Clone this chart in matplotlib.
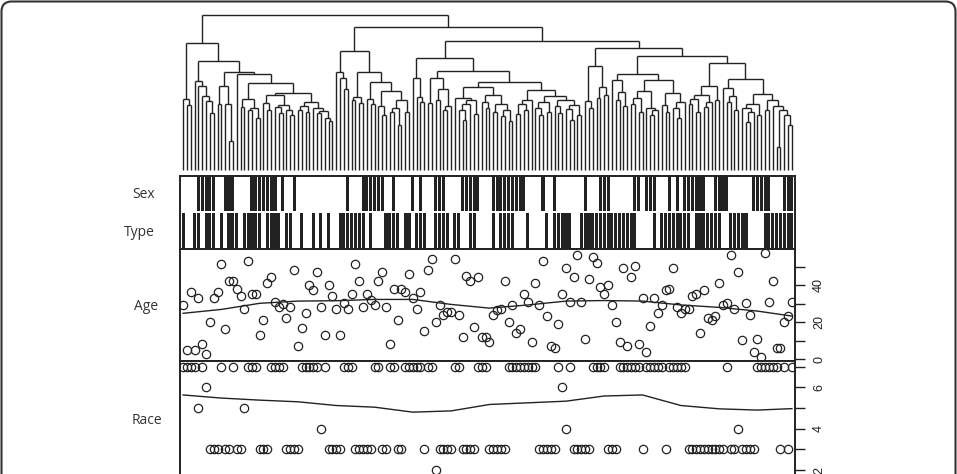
import numpy as np
import matplotlib.pyplot as plt
from matplotlib.collections import LineCollection
from matplotlib.patches import FancyBboxPatch

n_leaves = 160

gap_heights = [
    71, 65, 127, 89, 84, 74, 69, 57, 109, 66, 84, 66, 29, 98, 96, 63, 71, 60, 62, 52,
    87, 67, 60, 75, 63, 57, 65, 60, 55, 77, 60, 64, 58, 68, 62, 57, 59, 52, 49, 155,
    98, 92, 81, 119, 70, 73, 67, 98, 71, 66, 88, 64, 55, 79, 58, 62, 45, 70, 58, 143,
    92, 73, 68, 112, 67, 92, 70, 81, 60, 64, 99, 72, 60, 50, 66, 70, 56, 83, 68, 62,
    75, 58, 66, 54, 60, 49, 88, 56, 66, 60, 70, 80, 62, 55, 68, 58, 74, 64, 57, 70,
    61, 50, 65, 55, 129, 69, 62, 104, 72, 83, 75, 122, 90, 70, 78, 64, 96, 66, 72, 58,
    79, 62, 55, 60, 90, 65, 58, 77, 62, 52, 68, 114, 66, 71, 58, 75, 63, 68, 84, 70,
    107, 82, 68, 74, 60, 91, 62, 48, 58, 66, 55, 76, 60, 70, 64, 23, 60, 55, 45]

sex_ones = [4, 5, 6, 7, 8, 11, 12, 13, 18, 19, 20, 21, 22, 23, 24, 26, 29, 43,
            47, 48, 49, 50, 51, 52, 55, 60, 62, 66, 67, 68, 73, 74, 75, 76, 77,
            81, 82, 83, 84, 85, 86, 87, 88, 89, 94, 97, 105, 109, 110, 111, 118, 119,
            121, 122, 123, 127, 129, 131, 132, 133, 134, 135, 136, 139, 140, 141, 142,
            149, 150, 151, 152, 153, 157, 158, 159]

type_ones = [0, 3, 4, 6, 7, 8, 10, 12, 13, 14, 16, 17, 18, 19, 20, 22, 23, 24, 25,
             27, 28, 31, 34, 36, 38, 41, 42, 43, 44, 45, 46, 47, 49, 53, 54, 55, 56,
             58, 59, 61, 62, 63, 66, 67, 68, 69, 71, 72, 75, 76, 81, 83, 84, 85, 86,
             90, 95, 97, 98, 99, 100, 101, 104, 105, 106, 107, 108, 109, 110, 111, 112,
             113, 114, 115, 116, 117, 118, 123, 125, 126, 127, 128, 129, 130, 131, 132,
             134, 135, 136, 137, 138, 139, 140, 143, 144, 145, 146, 147, 152, 153, 154,
             155, 156, 157, 158, 159]

age = [
    29.2, 4.9, 36.0, 4.9, 33.2, 7.9, 2.9, 20.0, 33.2, 36.0, 51.2, 16.0, 42.2, 42.2, 38.0, 34.2, 27.0, 53.0, 35.1, 35.1,
    13.2, 21.1, 40.9, 44.1, 31.0, 28.1, 29.7, 22.2, 28.1, 48.1, 7.2, 16.9, 24.9, 40.0, 37.1, 47.2, 28.1, 13.2, 40.0, 34.1,
    27.0, 13.2, 30.1, 27.0, 35.1, 51.2, 42.2, 28.1, 35.1, 32.1, 29.2, 42.2, 47.2, 28.1, 7.9, 38.0, 21.1, 38.0, 36.0, 46.1,
    33.2, 27.0, 36.0, 15.0, 48.1, 54.1, 20.0, 29.2, 23.8, 25.2, 25.2, 54.1, 24.0, 12.1, 45.0, 42.2, 17.1, 44.1, 12.1, 12.1,
    9.0, 24.0, 26.3, 27.0, 42.2, 20.0, 29.0, 14.1, 16.0, 35.1, 31.0, 9.0, 41.1, 29.0, 53.0, 23.1, 7.0, 5.9, 19.1, 35.1,
    49.0, 31.0, 44.1, 56.0, 31.0, 11.0, 43.1, 55.0, 52.1, 39.1, 35.1, 40.0, 29.0, 20.0, 9.0, 49.0, 7.0, 44.1, 50.1, 7.9,
    33.0, 4.0, 18.0, 33.2, 25.0, 29.0, 37.1, 38.0, 49.0, 28.1, 25.0, 27.0, 27.0, 34.1, 35.1, 14.1, 37.1, 22.0, 21.1, 23.1,
    41.1, 29.0, 30.1, 56.0, 27.0, 47.0, 10.1, 30.1, 24.0, 4.0, 11.0, 1.1, 57.1, 31.0, 42.2, 6.1, 6.1, 20.0, 23.1, 31.0]

race = [
    7, 7, 7, 7, 5, 7, 6, 3, 3, 3, 7, 3, 3, 7, 3, 3, 5, 7, 7, 7,
    3, 3, 3, 7, 7, 7, 7, 3, 3, 3, 3, 7, 7, 7, 7, 7, 4, 7, 3, 3,
    3, 3, 7, 7, 7, 3, 3, 3, 3, 3, 7, 7, 3, 3, 7, 7, 3, 3, 7, 7,
    7, 7, 7, 3, 7, 7, 2, 3, 3, 3, 3, 7, 7, 3, 3, 3, 3, 7, 7, 7,
    3, 3, 3, 3, 3, 7, 7, 7, 7, 7, 7, 7, 7, 3, 3, 3, 3, 3, 7, 6,
    4, 7, 3, 3, 3, 3, 3, 7, 7, 7, 7, 3, 3, 3, 7, 7, 7, 7, 7, 7,
    3, 7, 7, 7, 7, 7, 3, 7, 7, 7, 7, 7, 3, 3, 3, 3, 3, 3, 3, 3,
    3, 3, 7, 3, 3, 4, 3, 3, 3, 3, 7, 7, 7, 7, 7, 7, 3, 7, 3, 7]

# smoothed trend lines, read at these leaf positions
smooth_pos = [0, 10, 20, 30, 40, 50, 60, 70, 80, 90, 100, 110, 120, 130, 140, 150, 159]
age_smooth = [24.7, 26.8, 30.1, 31.3, 31.5, 32.2, 32.2, 29.5, 27.5, 29.2, 31.3, 31.6, 31.3, 29.2, 27.9, 25.9, 23.2]
race_smooth = [5.63, 5.48, 5.38, 5.30, 5.12, 5.04, 4.80, 4.86, 5.17, 5.25, 5.33, 5.58, 5.63, 5.12, 4.96, 4.90, 4.97]

age_ticks = [0, 10, 20, 30, 40, 50]
age_ticklabels = ['0', '', '20', '', '40', '']
race_ticks = [1, 2, 3, 4, 5, 6, 7]
race_ticklabels = ['', '2', '', '4', '', '6', '']
row_labels = ['Sex', 'Type', 'Age', 'Race']

W, H = 957, 474
ink = '#222222'
x = np.arange(n_leaves)
xlim = (-0.8, 159.8)


def px_axes(fig, top, bottom):
    # axes rect given in pixel rows of the 957x474 picture
    return fig.add_axes([180 / W, (H - bottom) / H, 615 / W, (bottom - top) / H])


fig = plt.figure(figsize=(W / 100, H / 100), dpi=100)

# dendrogram
segs = []


def build(lo, hi):
    if lo == hi:
        return float(lo), 0.0
    k = lo + int(np.argmax(gap_heights[lo:hi]))
    xl, hl = build(lo, k)
    xr, hr = build(k + 1, hi)
    h = gap_heights[k]
    segs.append([(xl, hl), (xl, h)])
    segs.append([(xr, hr), (xr, h)])
    segs.append([(xl, h), (xr, h)])
    return (xl + xr) / 2, h


build(0, n_leaves - 1)
ax_d = px_axes(fig, 12, 172)
ax_d.add_collection(LineCollection(segs, colors=ink, linewidths=1.0))
ax_d.set_xlim(*xlim)
ax_d.set_ylim(-2, 158)
ax_d.axis('off')

# sex / type strips
sex = np.zeros(n_leaves)
sex[sex_ones] = 1
typ = np.zeros(n_leaves)
typ[type_ones] = 1
ax_s = px_axes(fig, 175.7, 249)
ax_s.bar(x[sex == 1], 0.95, width=0.8, bottom=1.03, color=ink, linewidth=0)
ax_s.bar(x[typ == 1], 0.95, width=0.8, bottom=0.02, color=ink, linewidth=0)
ax_s.set_xlim(*xlim)
ax_s.set_ylim(0, 2)
ax_s.set_xticks([])
ax_s.set_yticks([])

# age
ax_a = px_axes(fig, 249, 361)
ax_a.plot(x, age, 'o', mfc='none', mec=ink, ms=6, mew=0.9)
ax_a.plot(smooth_pos, age_smooth, color=ink, lw=1.0)
ax_a.set_xlim(*xlim)
ax_a.set_ylim(-1.08, 59.46)
ax_a.set_xticks([])
ax_a.set_yticks(age_ticks)
ax_a.set_yticklabels(age_ticklabels, rotation=90, va='center', family='Liberation Sans', fontsize=9)

# race (runs off the bottom of the picture, as in the original crop)
ax_r = px_axes(fig, 361, 495.8)
ax_r.plot(x, race, 'o', mfc='none', mec=ink, ms=6, mew=0.9)
ax_r.plot(smooth_pos, race_smooth, color=ink, lw=1.0)
ax_r.set_xlim(*xlim)
ax_r.set_ylim(0.76, 7.27)
ax_r.set_xticks([])
ax_r.set_yticks(race_ticks)
ax_r.set_yticklabels(race_ticklabels, rotation=90, va='center', family='Liberation Sans', fontsize=9)

for ax in (ax_s, ax_a, ax_r):
    for sp in ax.spines.values():
        sp.set_linewidth(1.4)
        sp.set_color(ink)
for ax in (ax_a, ax_r):
    ax.yaxis.tick_right()
    ax.tick_params(axis='y', length=7, width=1, color=ink, pad=6, labelcolor=ink)

# row labels on the left
label_pos = [(155, 194), (155, 232), (158, 306), (162, 420)]
for lab, (lx, ly) in zip(row_labels, label_pos):
    fig.text(lx / W, (H - ly) / H, lab, ha='right', va='center',
             fontsize=10, family='Open Sans', color='#333333')

# rounded frame round the figure
frame = FancyBboxPatch((0.015, -0.5), 9.54, 5.225, boxstyle='round,pad=0,rounding_size=0.1',
                       transform=fig.dpi_scale_trans, fill=False, lw=1.5, ec='#333333')
fig.add_artist(frame)

fig.savefig('out.png', dpi=100)
